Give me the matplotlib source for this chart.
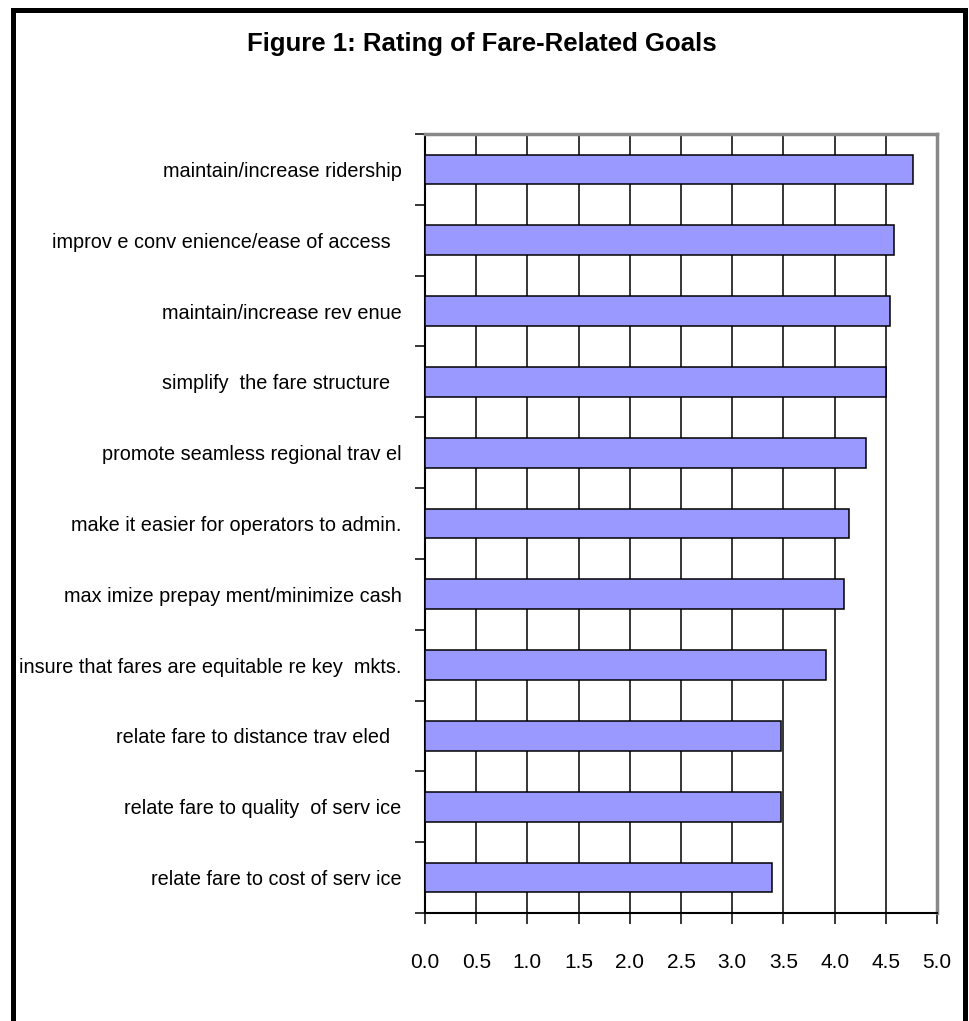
import matplotlib
matplotlib.use("Agg")
import matplotlib.pyplot as plt
from matplotlib import font_manager
from matplotlib.patches import Rectangle
import numpy as np

# pick a narrow sans font if one is around
names = {f.name for f in font_manager.fontManager.ttflist}
for fam in ['Liberation Sans Narrow', 'DejaVu Sans Condensed', 'Liberation Sans']:
    if fam in names:
        FONT = fam
        break
else:
    FONT = 'DejaVu Sans'
plt.rcParams['font.family'] = [FONT, 'DejaVu Sans']
narrow = FONT != 'Liberation Sans' and FONT != 'DejaVu Sans'
LABEL_FS = 17 if narrow else 14.3
TICK_FS = 17 if narrow else 15
TITLE_FS = 22 if narrow else 18.5

goals = [
    "maintain/increase ridership",
    "improv e conv enience/ease of access  ",
    "maintain/increase rev enue",
    "simplify  the fare structure  ",
    "promote seamless regional trav el",
    "make it easier for operators to admin.",
    "max imize prepay ment/minimize cash",
    "insure that fares are equitable re key  mkts.",
    "relate fare to distance trav eled  ",
    "relate fare to quality  of serv ice",
    "relate fare to cost of serv ice",
]
ratings = [4.77, 4.58, 4.54, 4.50, 4.31, 4.14, 4.09, 3.92, 3.48, 3.48, 3.39]
xticks = np.arange(0, 5.01, 0.5)

fig = plt.figure(figsize=(9.69, 10.21), dpi=100)
ax = fig.add_axes([425 / 969, 1 - 913 / 1021, 512 / 969, 779 / 1021])

ypos = np.arange(len(goals))[::-1]
ax.set_axisbelow(True)
ax.barh(ypos, ratings, height=0.42, color='#9999FF', edgecolor='black', linewidth=1.1, zorder=3)

ax.set_xlim(0, 5)
ax.set_ylim(-0.5, len(goals) - 0.5)
ax.set_xticks(xticks)
ax.set_xticklabels([f"{v:.1f}" for v in xticks], fontsize=TICK_FS)
ax.xaxis.grid(True, color='black', linewidth=1.1)
ax.tick_params(axis='x', direction='out', length=8, width=1.1, pad=21)

ax.set_yticks(ypos)
ax.set_yticklabels(goals, fontsize=LABEL_FS)
ax.set_yticks(np.arange(-0.5, len(goals), 1), minor=True)
ax.tick_params(axis='y', which='major', length=0, pad=17)
ax.tick_params(axis='y', which='minor', direction='out', length=7, width=1.1)

for s in ('top', 'right'):
    ax.spines[s].set_color('#888888')
    ax.spines[s].set_linewidth(2.5)
for s in ('left', 'bottom'):
    ax.spines[s].set_color('black')
    ax.spines[s].set_linewidth(1.5)

fig.text(482 / 969, 1 - 44 / 1021, "Figure 1: Rating of Fare-Related Goals",
         ha='center', va='center', fontsize=TITLE_FS, fontweight='bold')

fig.patches.append(Rectangle((13 / 969, -0.01), 952 / 969, 1 - 10 / 1021 + 0.01,
                             transform=fig.transFigure, fill=False,
                             edgecolor='black', linewidth=3.6))

fig.savefig("out.png", dpi=100)
